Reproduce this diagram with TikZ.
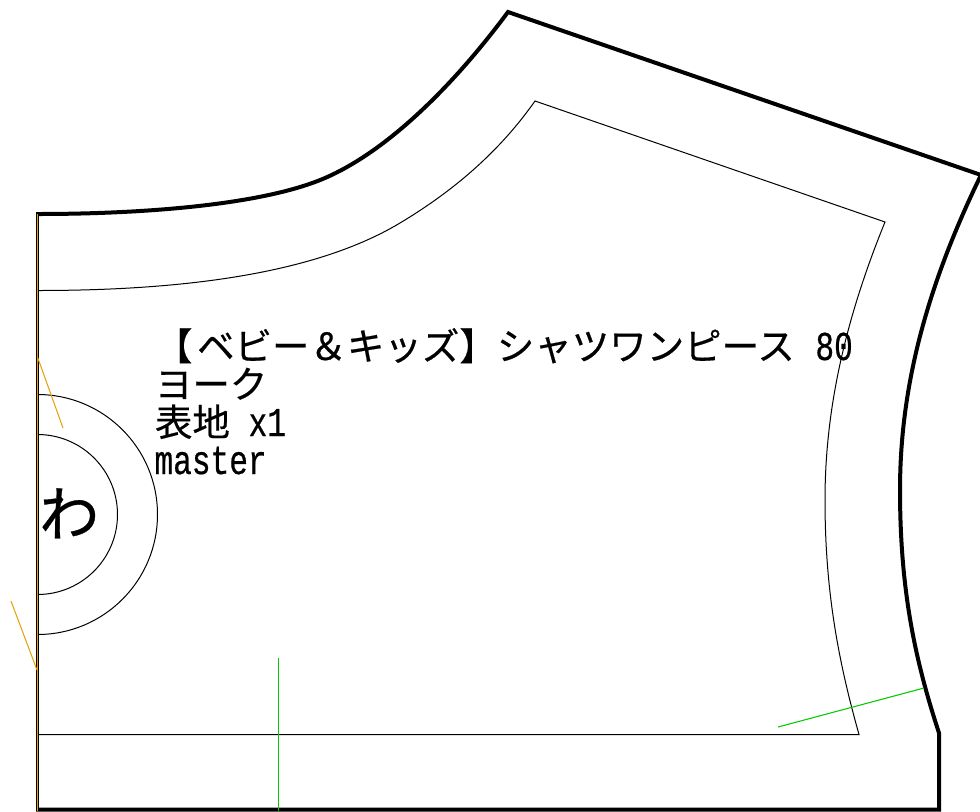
\documentclass[tikz,border=0pt]{standalone}
\usepackage{fontspec}
\setmainfont[FakeBold=0.5]{Noto Sans CJK JP}
\newfontfamily\latinpart[FakeStretch=0.76,FakeBold=0.5]{Liberation Mono}
\newcommand{\lat}[1]{{\latinpart\fontsize{30.75pt}{30.75pt}\selectfont #1}}
\definecolor{foldcol}{RGB}{230,159,0}
\definecolor{graincol}{RGB}{0,204,0}
\tikzset{
 cutline/.style={line width=3pt,line join=miter},
 sewline/.style={line width=0.75pt},
 foldline/.style={line width=0.75pt,draw=foldcol},
 grainline/.style={line width=0.8pt,draw=graincol},
 label/.style={anchor=base west,inner sep=0pt,outer sep=0pt,font=\fontsize{28.1pt}{28.1pt}\selectfont},
}
\begin{document}
\begin{tikzpicture}[x=0.75pt,y=-0.75pt]
\useasboundingbox (0,0) rectangle (980,811);
\clip (0,0) rectangle (980,811);
% outer cut line
\draw[cutline] (36,214) -- (37.5,214) .. controls (150,214) and (265,204) .. (325,178)
  .. controls (385,152) and (450,90) .. (508,12) -- (981,175)
  .. controls (925,290) and (900,390) .. (900,490) .. controls (900,590) and (915,660) .. (939,733)
  -- (939,809.5) -- (36,809.5);
\draw[line width=2.4pt] (37.5,213) -- (37.5,811);
% inner sew line
\draw[sewline] (37.5,290.5) .. controls (170,290.5) and (310,277) .. (400,223)
  .. controls (445,196) and (495,158) .. (535,101) -- (885,222)
  .. controls (845,320) and (825,410) .. (825,500) .. controls (825,590) and (838,660) .. (859,734.5)
  -- (37.5,734.5);
% fold marks
\draw[sewline] (37.5,394.5) arc[start angle=-90,end angle=90,radius=120];
\draw[sewline] (37.5,434.5) arc[start angle=-90,end angle=90,radius=80];
\draw[foldline] (37.5,214) -- (37.5,811);
\draw[foldline] (37.5,357) -- (63,428);
\draw[foldline] (11,601) -- (37,670);
\draw[grainline] (278.5,658) -- (278.5,811);
\draw[grainline] (778,727) -- (924,688);
% text
\node[label] (title) at (155,360) {【\hspace{3.5pt}ベビー＆キッズ】シャツワンピース\hspace{1.5pt}\lat{ 80}};
\node[label] (part) at (155,398) {ヨーク};
\node[label] (fabric) at (155,436) {表地\lat{ x1}};
\node[label] (size) at (154.5,474) {\lat{master}};
\node[anchor=base west,inner sep=0pt,font=\fontsize{45pt}{45pt}\selectfont] (wa) at (39,536) {わ};
\end{tikzpicture}
\end{document}
